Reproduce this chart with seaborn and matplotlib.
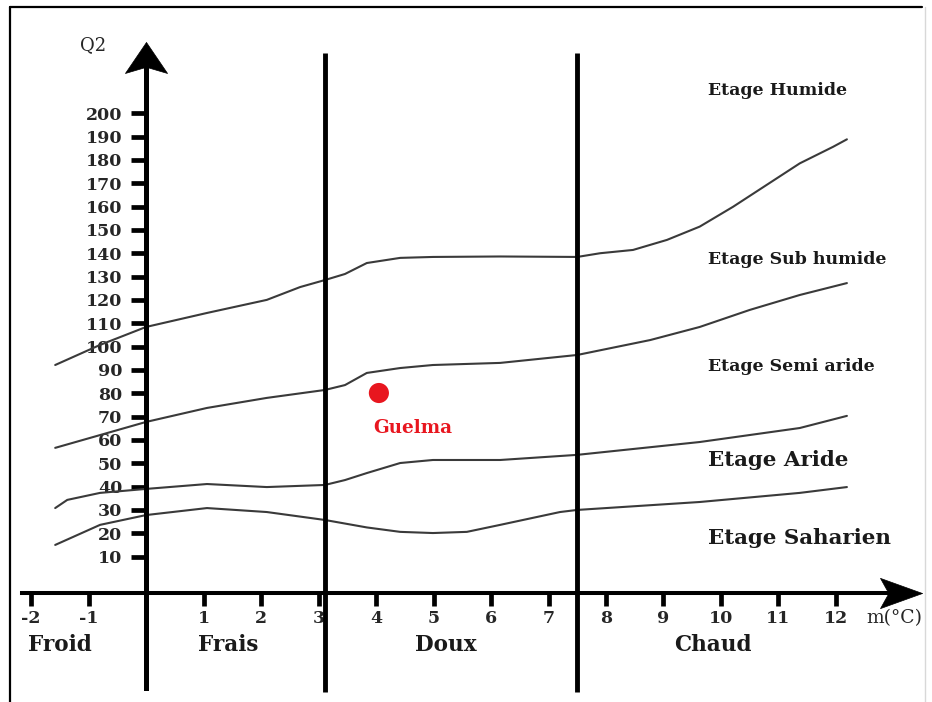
import pandas as pd
import matplotlib.pyplot as plt
import seaborn as sns
from matplotlib.path import Path
from matplotlib.lines import Line2D

# Emberger climagram: Q2 against m (mean minimum of the coldest month, °C)
m_humide = [-1.58, -0.80, 0.0, 1.06, 2.10, 2.68, 3.11, 3.46, 3.84, 4.42, 4.99, 6.16, 7.50,
            7.90, 8.47, 9.06, 9.63, 10.21, 10.79, 11.37, 11.95, 12.19]
q_humide = [92.1, 100.7, 108.4, 114.4, 120.0, 125.5, 128.5, 131.1, 135.8, 138.0, 138.4, 138.6, 138.4,
            140.0, 141.4, 145.7, 151.4, 159.9, 169.2, 178.5, 185.6, 188.8]

m_subhumide = [-1.58, 0.0, 1.06, 2.10, 3.11, 3.46, 3.84, 4.42, 4.99, 6.16, 7.50, 8.77, 9.63, 10.50, 11.37, 12.19]
q_subhumide = [56.6, 67.7, 73.7, 78.0, 81.4, 83.5, 88.7, 90.8, 92.1, 93.0, 96.4, 102.8, 108.4, 115.7, 122.1, 127.2]

m_semiaride = [-1.58, -1.37, -0.80, 0.0, 1.06, 2.10, 3.11, 3.46, 3.84, 4.42, 4.99, 6.16, 7.50, 9.63, 11.37, 12.19]
q_semiaride = [30.8, 34.3, 37.3, 39.0, 41.1, 39.8, 40.7, 42.8, 45.8, 50.1, 51.4, 51.4, 53.6, 59.1, 65.1, 70.3]

m_aride = [-1.58, -0.80, 0.0, 1.06, 2.10, 3.11, 3.84, 4.42, 4.99, 5.58, 6.16, 7.20, 7.50, 9.63, 11.37, 12.19]
q_aride = [15.0, 23.6, 27.8, 30.8, 29.1, 25.7, 22.5, 20.6, 20.1, 20.6, 23.6, 29.1, 30.0, 33.4, 37.3, 39.8]

curve_names = ["humide", "subhumide", "semiaride", "aride"]
curve_m = [m_humide, m_subhumide, m_semiaride, m_aride]
curve_q = [q_humide, q_subhumide, q_semiaride, q_aride]

etages = ["Etage Humide", "Etage Sub humide", "Etage Semi aride", "Etage Aride", "Etage Saharien"]
etage_q = [209.9, 137.1, 91.3, 51.4, 18.0]

hivers = ["Froid", "Frais", "Doux", "Chaud"]
hiver_m = [-1.50, 1.43, 5.22, 9.86]
hiver_limits = [3.11, 7.50]

station = "Guelma"
station_m = [4.05]
station_q = [80.1]

y_ticks = list(range(10, 201, 10))
x_ticks = [-2, -1, 1, 2, 3, 4, 5, 6, 7, 8, 9, 10, 11, 12]

rows = []
for name, ms, qs in zip(curve_names, curve_m, curve_q):
    for m, q in zip(ms, qs):
        rows.append({"limite": name, "m": m, "Q2": q})
df = pd.DataFrame(rows)

sns.set_theme(style="white")
plt.rcParams["font.family"] = ["DejaVu Serif"]

fig = plt.figure(figsize=(9.32, 7.02), dpi=100)
ax = fig.add_axes([0, 0, 1, 1])
ax.set_xlim(-2.54, 13.67)
ax.set_ylim(-52.3, 248.5)

sns.lineplot(data=df, x="m", y="Q2", units="limite", estimator=None, sort=False,
             color="#3a3a3a", lw=1.5, ax=ax)
for line in ax.lines:
    line.set_solid_joinstyle("round")

# winter-type boundaries
ax.vlines(hiver_limits, -48, 226, color="black", lw=3.5)

# axes through the origin
for s in ["top", "right"]:
    ax.spines[s].set_visible(False)
ax.spines["left"].set_position(("data", 0))
ax.spines["left"].set_bounds(-46.3, 222)
ax.spines["left"].set_linewidth(3.6)
ax.spines["bottom"].set_position(("data", -5.6))
ax.spines["bottom"].set_bounds(-2.16, 13.0)
ax.spines["bottom"].set_linewidth(2.9)
for s in ["left", "bottom"]:
    ax.spines[s].set_color("black")

ax.set_yticks(y_ticks)
ax.set_yticklabels([str(v) for v in y_ticks], fontweight="bold", fontsize=12.5)
ax.set_xticks(x_ticks)
ax.set_xticklabels([str(v) for v in x_ticks], fontweight="bold", fontsize=12.5)
ax.tick_params(axis="y", direction="out", length=11, width=3.4, pad=6, color="black", left=True)
ax.tick_params(axis="x", direction="out", length=9.5, width=3.4, pad=3, color="black", bottom=True)
ax.set_xlabel("")
ax.set_ylabel("")

# arrow heads
up_head = Path([(0, 0), (0.68, -1), (0, -0.8), (-0.68, -1), (0, 0)])
right_head = Path([(0, 0), (-1, 0.36), (-0.8, 0), (-1, -0.36), (0, 0)])
ax.plot([0], [230.5], marker=up_head, ms=44.6, color="black", mec="black", mew=0.5, clip_on=False)
ax.plot([13.5], [-5.6], marker=right_head, ms=60.5, color="black", mec="black", mew=0.5, clip_on=False)

ax.text(-0.92, 229.2, "Q2", fontsize=13, ha="center", va="center")
ax.text(12.52, -16.3, "m(°C)", fontsize=13.5, ha="left", va="center")

for label, q in zip(etages, etage_q):
    size = 15.4 if label in ("Etage Aride", "Etage Saharien") else 12.5
    ax.text(9.77, q, label, fontsize=size, fontweight="bold", ha="left", va="center", color="#1a1a1a")

for label, m in zip(hivers, hiver_m):
    ax.text(m, -27.8, label, fontsize=15.5, fontweight="bold", ha="center", va="center", color="#1a1a1a")

sns.scatterplot(x=station_m, y=station_q, s=210, color="#e8161f", edgecolor="none", ax=ax, zorder=5)
ax.text(4.64, 65.1, station, fontsize=13.2, fontweight="bold", color="#e8161f", ha="center", va="center")

# outer frame
fig.add_artist(Line2D([0.0107, 0.0107], [0.0, 0.990], color="black", lw=1.6))
fig.add_artist(Line2D([0.0107, 0.989], [0.990, 0.990], color="black", lw=1.6))
fig.add_artist(Line2D([0.9925, 0.9925], [0.0, 0.990], color="#d8d8d8", lw=1.0))

fig.savefig("out.png", dpi=100)
